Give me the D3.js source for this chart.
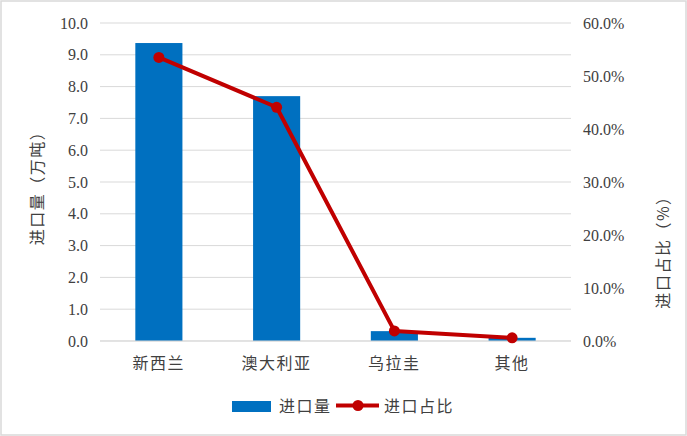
<!DOCTYPE html>
<html lang="en">
<head>
<meta charset="UTF-8">
<title>进口量与进口占比</title>
<style>
  html, body { margin: 0; padding: 0; background: #fff; }
  text { font-family: "Liberation Serif", "Noto Sans CJK SC", serif; font-size: 16px; fill: #404040; }
  text.cjk { font-family: "Noto Sans CJK SC", sans-serif; font-size: 16px; letter-spacing: 1.5px; }
</style>
</head>
<body>
<div id="chart"></div>
<script src="https://d3js.org/d3.v7.min.js"></script>
<script>
// data
var categories = ["新西兰", "澳大利亚", "乌拉圭", "其他"];
var volume = [9.37, 7.70, 0.31, 0.10];      // 万吨
var share = [53.5, 44.1, 1.9, 0.6];          // %
var leftTicks = [0, 1, 2, 3, 4, 5, 6, 7, 8, 9, 10];
var rightTicks = [0, 10, 20, 30, 40, 50, 60];

var W = 687, H = 436;
var plot = {left: 100, right: 571, top: 23, bottom: 341};

var svg = d3.select("#chart").append("svg")
    .attr("width", W).attr("height", H);

// outer border
svg.append("rect")
    .attr("x", 1).attr("y", 1).attr("width", W - 2).attr("height", H - 2)
    .attr("fill", "#fff").attr("stroke", "#d9d9d9").attr("stroke-width", 1.5);

var x = d3.scaleBand().domain(categories).range([plot.left, plot.right]).paddingInner(0.6).paddingOuter(0.3);
var xc = d3.scalePoint().domain(categories).range([plot.left, plot.right]).padding(0.5);
var yL = d3.scaleLinear().domain([0, 10]).range([plot.bottom, plot.top]);
var yR = d3.scaleLinear().domain([0, 60]).range([plot.bottom, plot.top]);

// gridlines
svg.append("g").selectAll("line").data(leftTicks).enter().append("line")
    .attr("x1", plot.left).attr("x2", plot.right)
    .attr("y1", function(d) { return yL(d); }).attr("y2", function(d) { return yL(d); })
    .attr("stroke", "#d9d9d9").attr("stroke-width", 1);

// left axis
var axL = svg.append("g").attr("transform", "translate(" + plot.left + ",0)")
    .call(d3.axisLeft(yL).tickValues(leftTicks).tickFormat(d3.format(".1f")).tickSize(0).tickPadding(12));
axL.select(".domain").remove();
axL.selectAll("text").attr("fill", "#404040")
    .style("font-family", "'Liberation Serif', serif").style("font-size", "16px");

// right axis
var axR = svg.append("g").attr("transform", "translate(" + plot.right + ",0)")
    .call(d3.axisRight(yR).tickValues(rightTicks).tickFormat(function(d) { return d.toFixed(1) + "%"; }).tickSize(0).tickPadding(12));
axR.select(".domain").remove();
axR.selectAll("text").attr("fill", "#404040")
    .style("font-family", "'Liberation Serif', serif").style("font-size", "16px");

// bars
svg.append("g").selectAll("rect").data(volume).enter().append("rect")
    .attr("x", function(d, i) { return x(categories[i]); })
    .attr("width", x.bandwidth())
    .attr("y", function(d) { return yL(d); })
    .attr("height", function(d) { return yL(0) - yL(d); })
    .attr("fill", "#0070c0");

// baseline
svg.append("line").attr("x1", plot.left).attr("x2", plot.right)
    .attr("y1", plot.bottom).attr("y2", plot.bottom)
    .attr("stroke", "#d9d9d9").attr("stroke-width", 1);

// category labels
svg.append("g").selectAll("text").data(categories).enter().append("text")
    .attr("class", "cjk")
    .attr("x", function(d) { return xc(d); })
    .attr("y", 369)
    .attr("text-anchor", "middle")
    .text(function(d) { return d; });

// line
var line = d3.line()
    .x(function(d, i) { return xc(categories[i]); })
    .y(function(d) { return yR(d); });
svg.append("path").datum(share)
    .attr("d", line)
    .attr("fill", "none").attr("stroke", "#c00000").attr("stroke-width", 4)
    .attr("stroke-linejoin", "round");
svg.append("g").selectAll("circle").data(share).enter().append("circle")
    .attr("cx", function(d, i) { return xc(categories[i]); })
    .attr("cy", function(d) { return yR(d); })
    .attr("r", 5.5).attr("fill", "#c00000");

// axis titles
svg.append("text").attr("class", "cjk")
    .attr("transform", "translate(43,184) rotate(-90)")
    .attr("text-anchor", "middle")
    .text("进口量（万吨）");
svg.append("text").attr("class", "cjk")
    .attr("transform", "translate(669,248) rotate(-90)")
    .attr("text-anchor", "middle")
    .text("进口占比（%）");

// legend
var lg = svg.append("g");
lg.append("rect").attr("x", 232).attr("y", 401).attr("width", 39).attr("height", 11).attr("fill", "#0070c0");
lg.append("text").attr("class", "cjk").attr("x", 279).attr("y", 412).text("进口量");
lg.append("line").attr("x1", 336).attr("x2", 379).attr("y1", 405.5).attr("y2", 405.5)
    .attr("stroke", "#c00000").attr("stroke-width", 4);
lg.append("circle").attr("cx", 358).attr("cy", 405.5).attr("r", 5.5).attr("fill", "#c00000");
lg.append("text").attr("class", "cjk").attr("x", 384).attr("y", 412).text("进口占比");
</script>
</body>
</html>
